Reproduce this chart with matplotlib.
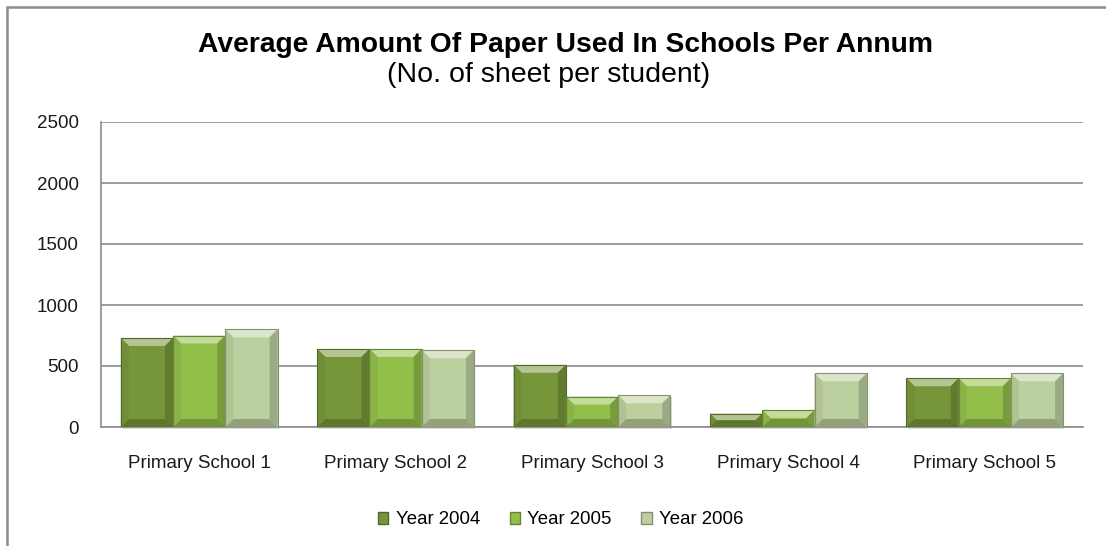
import matplotlib

matplotlib.use("Agg")
import matplotlib.pyplot as plt
import numpy as np
from matplotlib.colors import to_rgb
from matplotlib.patches import Patch, Polygon, Rectangle

schools = ["Primary School 1", "Primary School 2", "Primary School 3",
           "Primary School 4", "Primary School 5"]
years = ["Year 2004", "Year 2005", "Year 2006"]
y2004 = [730, 640, 510, 110, 400]
y2005 = [750, 640, 250, 140, 400]
y2006 = [800, 630, 260, 440, 440]
yticks = [0, 500, 1000, 1500, 2000, 2500]

colors = ["#77963a", "#92be4a", "#bccf9e"]


def _mix(color, other, t):
    c = np.array(to_rgb(color))
    o = np.array(to_rgb(other))
    return tuple(c + (o - c) * t)


def _bevel(ax, bar, color, px=8):
    # fake the Excel bevel: four shaded faces around the flat bar face
    x0, y0 = bar.get_x(), bar.get_y()
    x1, y1 = x0 + bar.get_width(), y0 + bar.get_height()
    (dx0, dy0), (dx1, dy1) = ax.transData.transform([(x0, y0), (x1, y1)])
    bpx = min(px, (dy1 - dy0) / 2, (dx1 - dx0) / 2)
    bx = bpx * (x1 - x0) / (dx1 - dx0)
    by = bpx * (y1 - y0) / (dy1 - dy0)
    faces = [
        ([(x0, y1), (x1, y1), (x1 - bx, y1 - by), (x0 + bx, y1 - by)], _mix(color, "white", 0.45)),
        ([(x0, y0), (x1, y0), (x1 - bx, y0 + by), (x0 + bx, y0 + by)], _mix(color, "black", 0.22)),
        ([(x0, y0), (x0 + bx, y0 + by), (x0 + bx, y1 - by), (x0, y1)], _mix(color, "black", 0.06)),
        ([(x1, y0), (x1 - bx, y0 + by), (x1 - bx, y1 - by), (x1, y1)], _mix(color, "black", 0.18)),
    ]
    for pts, fc in faces:
        ax.add_patch(Polygon(pts, closed=True, facecolor=fc, edgecolor="none", zorder=3.5))
    ax.add_patch(Rectangle((x0, y0), x1 - x0, y1 - y0, facecolor="none",
                           edgecolor=_mix(color, "black", 0.3), linewidth=0.8, zorder=3.6))


plt.rcParams["font.family"] = ["Liberation Sans", "DejaVu Sans"]

fig = plt.figure(figsize=(11.06, 5.46), dpi=100, facecolor="white")
ax = fig.add_axes([101 / 1106, 1 - 427 / 546, (1083 - 101) / 1106, (427 - 122) / 546])

x = np.arange(len(schools))
w = 0.266
series = [y2004, y2005, y2006]
ax.set_xlim(-0.5, len(schools) - 0.5)
ax.set_ylim(0, 2500)

all_bars = []
for i, (vals, c) in enumerate(zip(series, colors)):
    bars = ax.bar(x + (i - 1) * w, vals, width=w, color=c, edgecolor="none", zorder=3)
    all_bars.append((bars, c))

for bars, c in all_bars:
    for b in bars:
        # soft drop shadow
        ax.add_patch(Rectangle((b.get_x() + 0.006, -18), b.get_width(), b.get_height(),
                               facecolor="#999999", alpha=0.35, edgecolor="none",
                               zorder=2.5, clip_on=False))
        _bevel(ax, b, c)

ax.set_yticks(yticks)
ax.set_xticks(x)
ax.set_xticklabels(schools)
ax.grid(axis="y", color="#8c8c8c", linewidth=1.2, zorder=0)
ax.set_axisbelow(True)
for side in ("top", "right"):
    ax.spines[side].set_visible(False)
for side in ("left", "bottom"):
    ax.spines[side].set_color("#8c8c8c")
    ax.spines[side].set_linewidth(1.2)
ax.tick_params(axis="both", length=0, labelsize=13.5, colors="#1a1a1a")
ax.tick_params(axis="x", pad=20)
ax.tick_params(axis="y", pad=16)

fig.text(565 / 1106, 1 - 52 / 546, "Average Amount Of Paper Used In Schools Per Annum",
         ha="center", va="baseline", fontsize=20.3, fontweight="bold", color="black")
fig.text(549 / 1106, 1 - 82 / 546, "(No. of sheet per student)",
         ha="center", va="baseline", fontsize=20.5, color="black")

handles = [Patch(facecolor=c, edgecolor=_mix(c, "black", 0.3), label=lab)
           for c, lab in zip(colors, years)]
fig.legend(handles=handles, loc="center", bbox_to_anchor=(0.507, 1 - 520 / 546), ncol=3,
           frameon=False, fontsize=13.4, handlelength=0.55, handleheight=0.55,
           handletextpad=0.4, columnspacing=1.6)

fig.patches.append(Rectangle((7 / 1106, -0.1), 1.2, 1.1 - 7 / 546, transform=fig.transFigure,
                             facecolor="none", edgecolor="#8c8c8c", linewidth=1.8))

fig.savefig("out.png", dpi=100, facecolor="white")
